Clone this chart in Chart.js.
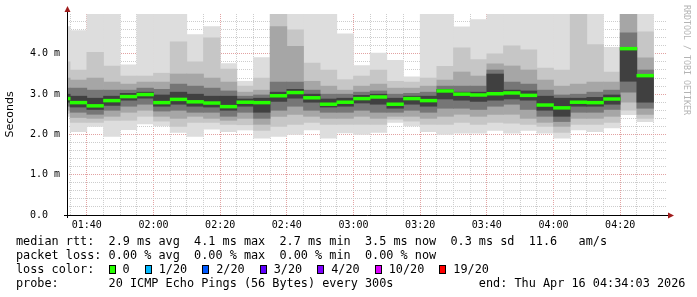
<!DOCTYPE html>
<html>
<head>
<meta charset="utf-8">
<script src="https://cdn.jsdelivr.net/npm/chart.js@4.4.1/dist/chart.umd.min.js"></script>
<style>
  html, body { margin: 0; padding: 0; background: #fff; }
  #wrap { position: relative; width: 697px; height: 297px; overflow: hidden; }
  #chart { position: absolute; left: 0; top: 0; }
  .line { position: absolute; left: 16px; font-family: 'DejaVu Sans Mono', monospace; font-size: 11.83px;
          line-height: 14px; white-space: pre; color: #000; }
  #loss { display: inline-flex; align-items: center; vertical-align: top; height: 14px; }
  #loss .box { display: inline-block; width: 5px; height: 7px; border: 1px solid #000; margin-right: 7px; }
  #loss .item { display: inline-flex; align-items: center; margin-right: 15px; }
  #credit { position: absolute; left: 682px; top: 5px; writing-mode: vertical-rl; font-family: 'DejaVu Sans Mono', monospace;
            font-size: 8.3px; line-height: 10px; color: #b4b4b4; white-space: pre; }
</style>
</head>
<body>
<div id="wrap">
  <canvas id="chart" width="697" height="297"></canvas>
  <div class="line" style="top:234px">median rtt:  2.9 ms avg  4.1 ms max  2.7 ms min  3.5 ms now  0.3 ms sd  11.6   am/s</div>
  <div class="line" style="top:248px">packet loss: 0.00 % avg  0.00 % max  0.00 % min  0.00 % now</div>
  <div class="line" style="top:262px">loss color:  <span id="loss"></span></div>
  <div class="line" style="top:276px">probe:       20 ICMP Echo Pings (56 Bytes) every 300s            end: Thu Apr 16 04:34:03 2026</div>
  <div id="credit">RRDTOOL / TOBI OETIKER</div>
</div>
<script>
// 5 minute steps, start of each step
const slots = ['01:30','01:35','01:40','01:45','01:50','01:55','02:00','02:05','02:10','02:15','02:20','02:25',
  '02:30','02:35','02:40','02:45','02:50','02:55','03:00','03:05','03:10','03:15','03:20','03:25',
  '03:30','03:35','03:40','03:45','03:50','03:55','04:00','04:05','04:10','04:15','04:20','04:25']

// median rtt (ms)
const median = [2.89,2.79,2.71,2.84,2.94,2.99,2.79,2.87,2.81,2.78,2.69,2.80,2.79,2.96,3.04,2.91,2.75,2.80,
  2.89,2.93,2.75,2.89,2.84,3.08,3.00,2.98,3.01,3.03,2.97,2.73,2.66,2.80,2.79,2.88,4.13,3.46]

// smoke: outer band (min..max) down to the core band
const maxRtt = [4.68,4.58,5.2,5.2,3.73,5.2,5.2,5.2,4.48,4.68,3.76,3.32,3.91,5.2,5.2,5.2,5.2,4.50,
  3.71,4.02,3.84,3.43,5.2,5.2,4.67,4.85,5.2,5.2,5.2,5.2,5.2,5.2,5.2,4.16,5.2,5.2]
const upper2 = [3.80,3.60,4.04,3.70,3.45,3.45,3.52,4.30,3.80,4.40,3.62,3.20,3.40,5.2,4.60,3.77,3.60,3.36,
  3.45,3.60,3.32,3.30,3.40,3.69,4.15,3.86,4.00,4.20,4.10,3.65,3.60,5.2,4.23,3.55,5.2,4.55]
const upper3 = [3.40,3.35,3.40,3.30,3.25,3.30,3.30,3.50,3.50,3.40,3.30,3.05,3.10,4.68,4.19,3.32,3.20,3.10,
  3.20,3.25,3.15,3.15,3.20,3.35,3.55,3.45,3.75,3.70,3.60,3.35,3.20,3.25,3.30,3.30,5.2,3.90]
const upper4 = [3.15,3.15,3.10,3.10,3.10,3.15,3.12,3.25,3.20,3.15,3.08,2.95,2.98,3.30,3.30,3.10,3.00,3.00,
  3.05,3.08,3.00,3.02,3.05,3.20,3.20,3.20,3.60,3.30,3.25,3.10,2.98,3.00,3.05,3.10,4.52,3.60]
const upper5 = [3.00,2.95,2.90,2.95,3.02,3.05,2.98,3.05,3.00,2.95,2.95,2.88,2.90,3.05,3.12,3.00,2.88,2.90,
  2.97,3.00,2.90,2.95,2.95,3.12,3.05,3.05,3.50,3.10,3.08,2.95,2.90,2.90,2.92,2.98,4.15,3.47]
const lower5 = [2.80,2.68,2.62,2.72,2.85,2.90,2.70,2.75,2.70,2.68,2.60,2.70,2.55,2.82,2.90,2.80,2.68,2.70,
  2.78,2.75,2.65,2.75,2.70,2.88,2.85,2.82,2.85,2.88,2.85,2.60,2.45,2.70,2.70,2.75,3.32,2.80]
const lower4 = [2.70,2.55,2.50,2.60,2.70,2.75,2.58,2.60,2.55,2.55,2.45,2.55,2.40,2.60,2.70,2.60,2.55,2.55,
  2.60,2.55,2.55,2.60,2.55,2.65,2.65,2.62,2.70,2.75,2.62,2.45,2.32,2.55,2.55,2.62,3.05,2.65]
const lower3 = [2.60,2.42,2.40,2.45,2.55,2.60,2.45,2.40,2.45,2.40,2.35,2.40,2.25,2.45,2.50,2.45,2.40,2.40,
  2.45,2.40,2.45,2.45,2.40,2.45,2.50,2.45,2.50,2.50,2.40,2.30,2.20,2.40,2.40,2.45,2.80,2.50]
const lower2 = [2.52,2.30,2.30,2.35,2.35,2.45,2.33,2.20,2.30,2.30,2.25,2.24,2.10,2.20,2.25,2.30,2.25,2.25,
  2.25,2.25,2.38,2.33,2.25,2.25,2.30,2.25,2.30,2.28,2.25,2.20,2.05,2.25,2.25,2.30,2.60,2.40]
const minRtt = [2.45,2.07,2.20,1.95,2.12,2.26,2.21,2.05,1.95,2.13,2.07,2.11,1.91,1.95,2.00,2.11,1.91,2.04,
  2.00,2.05,2.30,2.21,2.07,2.00,2.03,2.03,2.10,2.03,2.10,2.03,1.91,2.11,2.07,2.16,2.49,2.32]

const lossLabels = ['0','1/20','2/20','3/20','4/20','10/20','19/20']
const lossColors = ['#26ff00','#00b8ff','#0059ff','#5e00ff','#7e00ff','#dd00ff','#ff0000']

// graph window: 01:34:03 .. 04:34:03
const startMin = 94.05
const endMin = 274.05

function toMin(s){
    const p = s.split(':')
    return (+p[0]) * 60 + (+p[1])
}
function hhmm(v){
    const h = Math.floor(v / 60), m = Math.round(v % 60)
    return String(h).padStart(2,'0') + ':' + String(m).padStart(2,'0')
}

const centers = slots.map(s => toMin(s) + 2.5)
function band(lo, hi){
    return centers.map((x, i) => ({x: x, y: [lo[i], hi[i]]}))
}

const halfLine = 0.035
const layers = [
    {lo: minRtt, hi: maxRtt, color: '#dddddd'},
    {lo: lower2, hi: upper2, color: '#c6c6c6'},
    {lo: lower3, hi: upper3, color: '#a6a6a6'},
    {lo: lower4, hi: upper4, color: '#767676'},
    {lo: lower5, hi: upper5, color: '#404040'},
]
// chart.js paints higher "order" first, so outer smoke gets the highest
const datasets = layers.map((l, i) => ({data: band(l.lo, l.hi), backgroundColor: l.color, order: 10 - i}))
datasets.push({
    data: centers.map((x, i) => ({x: x, y: [median[i] - halfLine, median[i] + halfLine]})),
    backgroundColor: lossColors[0],
    order: 0
})

// loss color legend
const lossRow = document.getElementById('loss')
lossLabels.forEach((lab, i) => {
    const item = document.createElement('span')
    item.className = 'item'
    const box = document.createElement('span')
    box.className = 'box'
    box.style.background = lossColors[i]
    item.appendChild(box)
    item.appendChild(document.createTextNode(lab))
    lossRow.appendChild(item)
})

const axisArrows = {
    id: 'axisArrows',
    afterDraw(chart){
        const {ctx, chartArea: a} = chart
        ctx.save()
        ctx.strokeStyle = '#000'
        ctx.lineWidth = 1
        ctx.beginPath()
        ctx.moveTo(a.left + 0.5, a.bottom + 3)
        ctx.lineTo(a.left + 0.5, a.top - 6)
        ctx.moveTo(a.left - 3, a.bottom + 0.5)
        ctx.lineTo(a.right + 4, a.bottom + 0.5)
        ctx.stroke()
        ctx.fillStyle = '#a01c1c'
        ctx.beginPath()
        ctx.moveTo(a.left + 0.5, a.top - 8)
        ctx.lineTo(a.left - 2.5, a.top - 2)
        ctx.lineTo(a.left + 3.5, a.top - 2)
        ctx.fill()
        ctx.beginPath()
        ctx.moveTo(a.right + 7, a.bottom + 0.5)
        ctx.lineTo(a.right + 1, a.bottom - 2.5)
        ctx.lineTo(a.right + 1, a.bottom + 3.5)
        ctx.fill()
        ctx.restore()
    }
}

const majorGrid = '#e2a2a2'
const minorGrid = '#cdcdcd'

new Chart(document.getElementById('chart'), {
    type: 'bar',
    data: {datasets: datasets},
    options: {
        responsive: false,
        animation: false,
        events: [],
        layout: {padding: {left: 0, top: 14, right: 30, bottom: 62}},
        datasets: {bar: {grouped: false, barPercentage: 1, categoryPercentage: 1, borderWidth: 0}},
        plugins: {legend: {display: false}, tooltip: {enabled: false}},
        scales: {
            x: {
                type: 'linear',
                min: startMin,
                max: endMin,
                offset: false,
                z: 1,
                afterFit(s){ s.height = 20 },
                afterBuildTicks(s){
                    const t = []
                    for (let v = Math.ceil(s.min / 5) * 5; v < s.max; v += 5) t.push({value: v})
                    s.ticks = t
                },
                grid: {
                    offset: false,
                    drawTicks: false,
                    color: c => (c.tick && c.tick.value % 20 === 0) ? majorGrid : minorGrid
                },
                border: {display: false, dash: [1, 1]},
                ticks: {
                    autoSkip: false,
                    maxRotation: 0,
                    padding: 4,
                    color: '#000',
                    font: {family: "'DejaVu Sans Mono', monospace", size: 10},
                    callback: v => (v % 20 === 0) ? hhmm(v) : ''
                }
            },
            y: {
                min: 0,
                max: 4.99,
                z: 1,
                afterFit(s){ s.width = 67 },
                afterBuildTicks(s){
                    const t = []
                    for (let i = 0; i * 0.2 < s.max; i++) t.push({value: Math.round(i * 2) / 10})
                    s.ticks = t
                },
                grid: {
                    drawTicks: false,
                    color: c => (c.tick && Math.abs(c.tick.value - Math.round(c.tick.value)) < 1e-6) ? majorGrid : minorGrid
                },
                border: {display: false, dash: [1, 1]},
                title: {display: true, text: 'Seconds', color: '#000', font: {family: "'DejaVu Sans', sans-serif", size: 11}},
                ticks: {
                    autoSkip: false,
                    padding: 7,
                    color: '#000',
                    font: {family: "'DejaVu Sans Mono', monospace", size: 10},
                    callback: v => {
                        if (Math.abs(v - Math.round(v)) > 1e-6) return ''
                        return v === 0 ? '0.0  ' : v.toFixed(1) + ' m'
                    }
                }
            }
        }
    },
    plugins: [axisArrows]
})
</script>
</body>
</html>
